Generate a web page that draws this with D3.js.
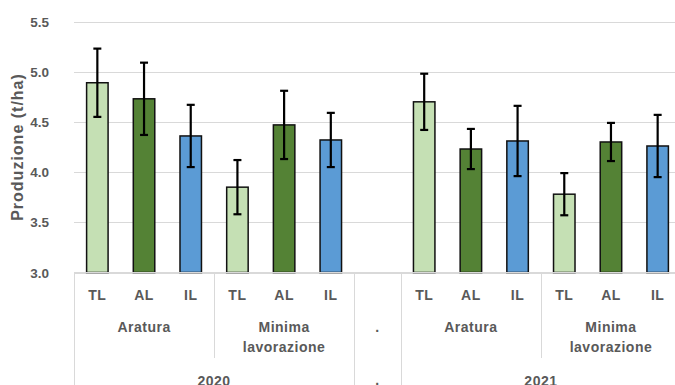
<!DOCTYPE html>
<html>
<head>
<meta charset="utf-8">
<script src="https://cdn.jsdelivr.net/npm/d3@7"></script>
<style>
  body { margin: 0; background: #fff; }
  text { font-family: "Liberation Sans", Arial, sans-serif; fill: #595959; }
</style>
</head>
<body>
<svg id="chart" width="675" height="385"></svg>
<script>
// dati
const years = ["2020", ".", "2021"];
const tillage = ["Aratura", "Minima lavorazione"];
const treatments = ["TL", "AL", "IL"];
const values2020 = [4.89, 4.73, 4.36, 3.85, 4.47, 4.32];
const errors2020 = [0.34, 0.36, 0.31, 0.27, 0.34, 0.27];
const values2021 = [4.70, 4.23, 4.31, 3.78, 4.30, 4.26];
const errors2021 = [0.28, 0.20, 0.35, 0.21, 0.19, 0.31];
const yTicks = [3.0, 3.5, 4.0, 4.5, 5.0, 5.5];

const colors = {TL: "#c5e0b4", AL: "#548235", IL: "#5b9bd5"};

const svg = d3.select("#chart");
const margin = {top: 21.5, left: 74, bottom: 272.5, right: 681};

// costruzione righe
var rows = [];
var slots = [];
years.forEach(yr => {
  if (yr == ".") { slots.push("."); return; }
  const vals = yr == "2020" ? values2020 : values2021;
  const errs = yr == "2020" ? errors2020 : errors2021;
  tillage.forEach((t, ti) => {
    treatments.forEach((tr, k) => {
      const key = yr + "|" + t + "|" + tr;
      slots.push(key);
      rows.push({key: key, year: yr, till: t, tr: tr, v: vals[ti*3+k], e: errs[ti*3+k]});
    });
  });
});

const x = d3.scaleBand()
  .domain(slots)
  .range([margin.left, margin.right])
  .paddingInner(0.54)
  .paddingOuter(0.27);

const y = d3.scaleLinear()
  .domain([3, 5.5])
  .range([margin.bottom, margin.top]);

const half = (x.step() - x.bandwidth()) / 2;
const left = k => x(k) - half;
const right = k => x(k) + x.bandwidth() + half;
const mid = k => x(k) + x.bandwidth() / 2;

// griglia
svg.append("g").selectAll("line")
  .data(yTicks)
  .enter().append("line")
  .attr("x1", margin.left).attr("x2", 675)
  .attr("y1", d => Math.round(y(d)) + 0.5).attr("y2", d => Math.round(y(d)) + 0.5)
  .attr("stroke", "#d9d9d9").attr("stroke-width", 1);

// etichette asse y
svg.append("g").selectAll("text")
  .data(yTicks)
  .enter().append("text")
  .attr("x", 49).attr("y", d => y(d) + 5)
  .attr("text-anchor", "end")
  .style("font-size", "13.5px").style("font-weight", "bold")
  .text(d => d.toFixed(1));

svg.append("text")
  .attr("transform", `translate(23,${(margin.top + margin.bottom)/2}) rotate(-90)`)
  .attr("text-anchor", "middle")
  .style("font-size", "16px").style("font-weight", "bold")
  .style("letter-spacing", "1px")
  .text("Produzione (t/ha)");

// barre
svg.append("g").selectAll("rect")
  .data(rows)
  .enter().append("rect")
  .attr("x", d => x(d.key))
  .attr("y", d => y(d.v))
  .attr("width", x.bandwidth())
  .attr("height", d => y(3) - y(d.v))
  .attr("fill", d => colors[d.tr])
  .attr("stroke", "#111").attr("stroke-width", 1.5);

// barre di errore
const err = svg.append("g").attr("stroke", "#000").attr("stroke-width", 2.2);
rows.forEach(d => {
  const cx = mid(d.key);
  err.append("line").attr("x1", cx).attr("x2", cx)
    .attr("y1", y(d.v + d.e)).attr("y2", y(d.v - d.e));
  [d.v + d.e, d.v - d.e].forEach(v => {
    err.append("line").attr("x1", cx - 4).attr("x2", cx + 4)
      .attr("y1", y(v)).attr("y2", y(v));
  });
});

// asse categorie
const sep = svg.append("g").attr("stroke", "#d9d9d9").attr("stroke-width", 1);
sep.append("line").attr("x1", margin.left).attr("x2", 675)
  .attr("y1", margin.bottom).attr("y2", margin.bottom);

const lab = svg.append("g")
  .style("font-size", "14px").style("font-weight", "bold")
  .style("letter-spacing", "0.5px")
  .attr("text-anchor", "middle");

// livello 1: trattamenti
rows.forEach(d => {
  lab.append("text").attr("x", mid(d.key)).attr("y", 300).text(d.tr);
});

// livello 2 e 3
var xs = [];
years.forEach(yr => {
  if (yr == ".") {
    lab.append("text").attr("x", mid(".")).attr("y", 332).text(".");
    lab.append("text").attr("x", mid(".")).attr("y", 385).text(".");
    xs.push({x: left("."), full: true});
    xs.push({x: right("."), full: true});
    return;
  }
  const yrRows = rows.filter(r => r.year == yr);
  tillage.forEach(t => {
    const g = yrRows.filter(r => r.till == t);
    const a = left(g[0].key), b = right(g[g.length-1].key);
    const words = t.split(" ");
    words.forEach((w, i) => {
      lab.append("text").attr("x", (a + b) / 2).attr("y", 332 + i * 20).text(w);
    });
    xs.push({x: a, full: false});
  });
  const a = left(yrRows[0].key), b = right(yrRows[yrRows.length-1].key);
  lab.append("text").attr("x", (a + b) / 2).attr("y", 386).text(yr);
  xs.push({x: a, full: true});
  xs.push({x: b, full: true});
});

sep.selectAll("line.v")
  .data(xs)
  .enter().append("line")
  .attr("class", "v")
  .attr("x1", d => Math.round(d.x) + 0.5).attr("x2", d => Math.round(d.x) + 0.5)
  .attr("y1", margin.bottom).attr("y2", d => d.full ? 385 : 358);
</script>
</body>
</html>
